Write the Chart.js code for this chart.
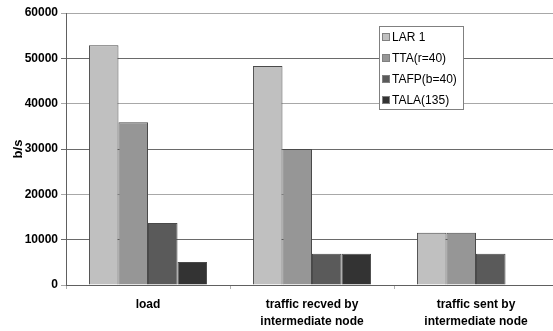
<!DOCTYPE html>
<html>
<head>
<meta charset="utf-8">
<script src="https://cdn.jsdelivr.net/npm/chart.js@4/dist/chart.umd.min.js"></script>
<style>
    html, body { margin: 0; padding: 0; background: #ffffff; overflow: hidden; }
    #wrap { width: 558px; height: 331px; }
</style>
</head>
<body>
<div id="wrap"><canvas id="barChart" width="558" height="331"></canvas></div>
<script>
const categories = [
    "load",
    ["traffic recved by", "intermediate node"],
    ["traffic sent by", "intermediate node"]
];
const seriesNames = ["LAR 1", "TTA(r=40)", "TAFP(b=40)", "TALA(135)"];
const lar1 = [52900, 48300, 11500];
const tta = [35900, 30000, 11500];
const tafp = [13700, 6900, 6900];
const tala = [5100, 6900, 0];
const yTicks = [0, 10000, 20000, 30000, 40000, 50000, 60000];

const seriesColors = ["#c0c0c0", "#969696", "#5a5a5a", "#333333"];
const FONT = "'Liberation Sans', Arial, sans-serif";

function makeDatasets() {
    const values = [lar1, tta, tafp, tala];
    return seriesNames.map((name, i) => ({
        label: name,
        data: values[i],
        backgroundColor: seriesColors[i],
        borderColor: "#4a4a4a",
        borderWidth: 1,
        borderSkipped: "bottom",
        categoryPercentage: 0.72,
        barPercentage: 1.0
    }));
}

// legend box drawn inside the plot, like the original
const boxLegend = {
    id: "boxLegend",
    afterDraw(chart) {
        const ctx = chart.ctx;
        const x = 379, y = 26, w = 84, h = 83;
        ctx.save();
        ctx.fillStyle = "#ffffff";
        ctx.fillRect(x, y, w, h);
        ctx.strokeStyle = "#808080";
        ctx.lineWidth = 1;
        ctx.strokeRect(x + 0.5, y + 0.5, w, h);
        ctx.font = "12px " + FONT;
        ctx.textBaseline = "middle";
        chart.data.datasets.forEach((ds, i) => {
            const cy = y + 11 + i * 21;
            ctx.fillStyle = ds.backgroundColor;
            ctx.fillRect(x + 4, cy - 3, 7, 7);
            ctx.strokeStyle = "#808080";
            ctx.strokeRect(x + 3.5, cy - 3.5, 7, 7);
            ctx.fillStyle = "#000000";
            ctx.fillText(ds.label, x + 13, cy + 0.5);
        });
        ctx.restore();
    }
};

new Chart(document.getElementById("barChart"), {
    type: "bar",
    data: {
        labels: categories,
        datasets: makeDatasets()
    },
    options: {
        responsive: false,
        animation: false,
        layout: { padding: { top: 13, right: 0, bottom: 0, left: 11 } },
        plugins: {
            legend: { display: false },
            tooltip: { enabled: false }
        },
        scales: {
            x: {
                grid: {
                    offset: true,
                    drawOnChartArea: false,
                    color: "#b0b0b0",
                    tickLength: 4
                },
                border: { color: "#606060", width: 1 },
                ticks: {
                    color: "#000000",
                    font: { family: FONT, size: 12, weight: "bold", lineHeight: 1.35 },
                    padding: 8,
                    maxRotation: 0
                },
                afterFit(scale) { scale.height = 46; }
            },
            y: {
                min: 0,
                max: 60000,
                afterBuildTicks(scale) {
                    scale.ticks = yTicks.map(v => ({ value: v }));
                },
                grid: {
                    color: ctx => (ctx.index % 2 === 0 ? "#a8a8a8" : "#6a6a6a"),
                    tickLength: 5
                },
                border: { color: "#606060", width: 1 },
                ticks: {
                    color: "#000000",
                    font: { family: FONT, size: 12, weight: "bold" },
                    padding: 3,
                    callback: v => String(v)
                },
                title: {
                    display: true,
                    text: "b/s",
                    color: "#000000",
                    font: { family: FONT, size: 13, weight: "bold" },
                    padding: { top: 0, bottom: 4 }
                },
                afterFit(scale) { scale.width = 55; }
            }
        }
    },
    plugins: [boxLegend]
});
</script>
</body>
</html>
